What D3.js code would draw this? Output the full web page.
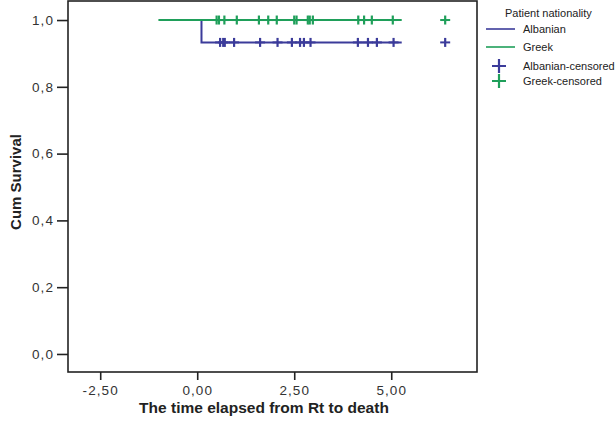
<!DOCTYPE html>
<html><head><meta charset="utf-8">
<script src="https://cdn.jsdelivr.net/npm/d3@7"></script>
<style>body{margin:0;background:#fff}svg{display:block}text{font-family:"Liberation Sans",Arial,sans-serif}</style>
</head><body><svg id="c" width="616" height="421"></svg>
<script>
const xTicks = [-2.5, 0, 2.5, 5];
const yTicks = [0, 0.2, 0.4, 0.6, 0.8, 1.0];
const seriesNames = ["Albanian", "Greek"];
const seriesColors = ["#3b3b9a", "#1f9f5a"];
// step curves: [time, survival]
const albanianSteps = [[0, 1], [0.11, 1], [0.11, 0.933], [5.27, 0.933]];
const greekSteps = [[-1.0, 1], [5.27, 1]];
const albanianCensored = [0.59, 0.67, 0.71, 0.95, 1.62, 2.07, 2.44, 2.65, 2.75, 2.92, 4.14, 4.40, 4.63, 5.06, 6.39];
const albanianCensoredSurv = 0.933;
const greekCensored = [0.50, 0.56, 0.70, 1.02, 1.59, 1.83, 2.05, 2.50, 2.56, 2.85, 2.90, 2.98, 4.15, 4.30, 4.50, 5.04, 6.39];
const greekCensoredSurv = 1.0;
const legendTitle = "Patient nationality";
const legendLabels = ["Albanian", "Greek", "Albanian-censored", "Greek-censored"];

const svg = d3.select("#c");
const L = 68, R = 477, T = 1, B = 372;
const x = d3.scaleLinear().domain([-3.33, 7.21]).range([L, R]);
const y = d3.scaleLinear().domain([-0.054, 1.057]).range([B, T]);
const fmt = d => d3.format(".2f")(d).replace(".", ",").replace("\u2212", "-");
const fmtY = d => d3.format(".1f")(d).replace(".", ",");

// frame
svg.append("rect").attr("x", L).attr("y", T).attr("width", R - L).attr("height", B - T)
  .attr("fill", "none").attr("stroke", "#222").attr("stroke-width", 1.6);

const xa = svg.append("g").attr("transform", `translate(0,${B})`)
  .call(d3.axisBottom(x).tickValues(xTicks).tickFormat(fmt).tickSize(8).tickPadding(5));
const ya = svg.append("g").attr("transform", `translate(${L},0)`)
  .call(d3.axisLeft(y).tickValues(yTicks).tickFormat(fmtY).tickSize(11).tickPadding(3));
[xa, ya].forEach(a => {
  a.select(".domain").remove();
  a.selectAll("line").attr("stroke", "#222").attr("stroke-width", 1.6);
  a.selectAll("text").attr("fill", "#333").style("font-size", "13.5px").style("letter-spacing", "1.1px");
});

svg.append("text").attr("x", 264).attr("y", 413).attr("text-anchor", "middle")
  .style("font-size", "15.5px").style("font-weight", "bold").attr("fill", "#222")
  .text("The time elapsed from Rt to death");
svg.append("text").attr("transform", "translate(21,182) rotate(-90)").attr("text-anchor", "middle")
  .style("font-size", "15px").style("font-weight", "bold").attr("fill", "#222")
  .text("Cum Survival");

const line = d3.line().x(d => x(d[0])).y(d => y(d[1]));
const g = svg.append("g");
g.append("path").attr("d", line(albanianSteps)).attr("fill", "none").attr("stroke", seriesColors[0]).attr("stroke-width", 2);
g.append("path").attr("d", line(greekSteps)).attr("fill", "none").attr("stroke", seriesColors[1]).attr("stroke-width", 2);

function plus(sel, cx, cy, color, hw, hh) {
  sel.append("line").attr("x1", cx - hw).attr("x2", cx + hw).attr("y1", cy).attr("y2", cy)
    .attr("stroke", color).attr("stroke-width", 2);
  sel.append("line").attr("x1", cx).attr("x2", cx).attr("y1", cy - hh).attr("y2", cy + hh)
    .attr("stroke", color).attr("stroke-width", 2.2);
}
albanianCensored.forEach(t => plus(g, x(t), y(albanianCensoredSurv), seriesColors[0], 5, 4.5));
greekCensored.forEach(t => plus(g, x(t), y(greekCensoredSurv), seriesColors[1], 5, 4.5));

// legend
const lg = svg.append("g").style("font-size", "11px");
lg.append("text").attr("x", 505).attr("y", 17).attr("fill", "#222").text(legendTitle);
const ly = [29, 47, 66, 81];
legendLabels.forEach((lab, i) => {
  const col = seriesColors[i % 2];
  if (i < 2) {
    lg.append("line").attr("x1", 486).attr("x2", 515).attr("y1", ly[i]).attr("y2", ly[i])
      .attr("stroke", col).attr("stroke-width", 1.6);
  } else {
    plus(lg, 499, ly[i], col, 7, 7);
  }
  lg.append("text").attr("x", 523).attr("y", ly[i] + 4).attr("fill", "#222").text(lab);
});
</script></body></html>
